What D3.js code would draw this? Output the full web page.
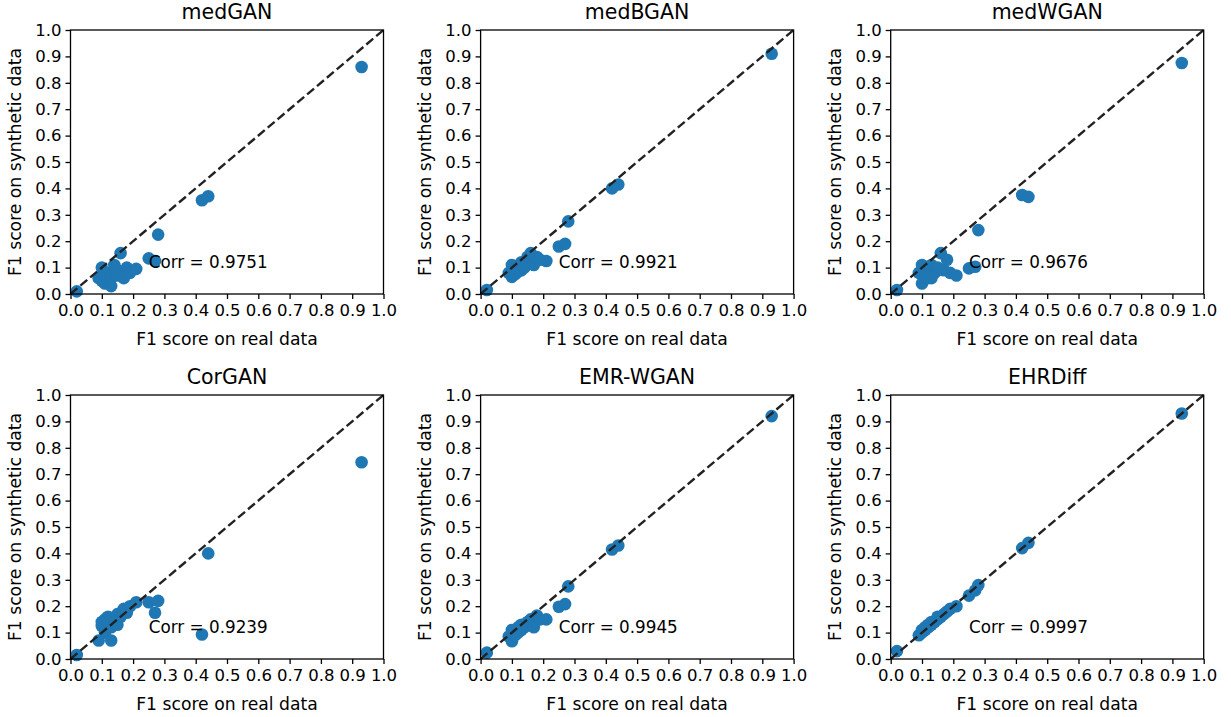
<!DOCTYPE html>
<html>
<head>
<meta charset="utf-8">
<script src="https://cdn.jsdelivr.net/npm/d3@7"></script>
<style>
  body { margin: 0; background: #fff; }
  text { font-family: "DejaVu Sans", sans-serif; fill: #000; }
</style>
</head>
<body>
<div id="chart"></div>
<script>
// 実データでのF1 (全モデル共通)
var realF1 = [0.02, 0.09, 0.10, 0.10, 0.11, 0.11, 0.12, 0.12, 0.13, 0.13, 0.14, 0.15,
  0.15, 0.16, 0.17, 0.18, 0.19, 0.21, 0.25, 0.27, 0.28, 0.42, 0.44, 0.93];

// 合成データでのF1 (モデル毎)
var medGAN = [0.01, 0.06, 0.10, 0.05, 0.04, 0.07, 0.05, 0.08, 0.03, 0.06, 0.11, 0.07,
  0.09, 0.155, 0.06, 0.10, 0.08, 0.095, 0.135, 0.125, 0.225, 0.355, 0.37, 0.86];
var medBGAN = [0.015, 0.08, 0.065, 0.11, 0.09, 0.075, 0.10, 0.085, 0.09, 0.12, 0.10, 0.12,
  0.14, 0.155, 0.11, 0.14, 0.13, 0.125, 0.18, 0.19, 0.275, 0.40, 0.415, 0.91];
var medWGAN = [0.015, 0.08, 0.04, 0.11, 0.07, 0.09, 0.06, 0.10, 0.06, 0.11, 0.08, 0.09,
  0.10, 0.155, 0.09, 0.13, 0.08, 0.07, 0.097, 0.103, 0.242, 0.375, 0.368, 0.875];
var CorGAN = [0.015, 0.07, 0.125, 0.14, 0.15, 0.10, 0.16, 0.13, 0.07, 0.12, 0.14, 0.17,
  0.13, 0.16, 0.19, 0.175, 0.20, 0.215, 0.215, 0.175, 0.22, 0.093, 0.40, 0.745];
var EMRWGAN = [0.024, 0.085, 0.067, 0.11, 0.09, 0.10, 0.10, 0.12, 0.11, 0.13, 0.12, 0.14,
  0.13, 0.15, 0.12, 0.165, 0.15, 0.15, 0.198, 0.208, 0.275, 0.415, 0.43, 0.92];
var EHRDiff = [0.03, 0.09, 0.10, 0.11, 0.11, 0.12, 0.12, 0.13, 0.13, 0.14, 0.14, 0.15,
  0.16, 0.16, 0.17, 0.18, 0.19, 0.20, 0.24, 0.26, 0.28, 0.42, 0.44, 0.93];

var titles = ["medGAN", "medBGAN", "medWGAN", "CorGAN", "EMR-WGAN", "EHRDiff"];
var synthF1 = [medGAN, medBGAN, medWGAN, CorGAN, EMRWGAN, EHRDiff];
var corrs = ["0.9751", "0.9921", "0.9676", "0.9239", "0.9945", "0.9997"];
var ticks = [0.0, 0.1, 0.2, 0.3, 0.4, 0.5, 0.6, 0.7, 0.8, 0.9, 1.0];

var width = 1231;
var height = 717;
var colLeft = [70.5, 480.6, 890.7]; // 各列の軸の左端
var rowTop = [30, 395];            // 各行の軸の上端
var pw = 313;
var ph = 264;
var dotColor = "#1f77b4";

var svg = d3.select("#chart").append("svg")
  .attr("width", width)
  .attr("height", height);

var x = d3.scaleLinear().domain([0, 1]).range([0, pw]);
var y = d3.scaleLinear().domain([0, 1]).range([ph, 0]);

titles.forEach(function(title, i) {
  var g = svg.append("g")
    .attr("transform", "translate(" + colLeft[i % 3] + "," + rowTop[Math.floor(i / 3)] + ")");

  var pts = realF1.map(function(r, j) { return [r, synthF1[i][j]]; });

  // 散布点
  g.selectAll("circle").data(pts).enter()
    .append("circle")
    .attr("cx", function(d) { return x(d[0]); })
    .attr("cy", function(d) { return y(d[1]); })
    .attr("r", 6.3)
    .attr("fill", dotColor);

  // y = x の破線
  g.append("line")
    .attr("x1", x(0)).attr("y1", y(0))
    .attr("x2", x(1)).attr("y2", y(1))
    .attr("stroke", "#222")
    .attr("stroke-width", 2.4)
    .attr("stroke-dasharray", "9,3.9");

  // 相関係数
  g.append("text")
    .attr("x", x(0.25))
    .attr("y", y(0.12))
    .attr("dy", "0.35em")
    .attr("font-size", "16.8px")
    .text("Corr = " + corrs[i]);

  // 軸
  var xAxis = d3.axisBottom(x).tickValues(ticks).tickSize(5).tickPadding(5)
    .tickFormat(d3.format(".1f"));
  var yAxis = d3.axisLeft(y).tickValues(ticks).tickSize(5).tickPadding(4)
    .tickFormat(d3.format(".1f"));

  var gx = g.append("g").attr("transform", "translate(0," + ph + ")").call(xAxis);
  var gy = g.append("g").call(yAxis);
  [gx, gy].forEach(function(a) {
    a.select(".domain").remove();
    a.selectAll("line").attr("stroke", "#000").attr("stroke-width", 1.3);
    a.selectAll("text").attr("font-size", "16.5px").attr("font-family", "DejaVu Sans").attr("fill", "#000");
  });

  // 枠
  g.append("rect")
    .attr("width", pw).attr("height", ph)
    .attr("fill", "none")
    .attr("stroke", "#000")
    .attr("stroke-width", 1.3);

  // タイトル
  g.append("text")
    .attr("x", pw / 2)
    .attr("y", -11)
    .attr("text-anchor", "middle")
    .attr("font-size", "20.5px")
    .text(title);

  // 軸ラベル
  g.append("text")
    .attr("x", pw / 2)
    .attr("y", ph + 51)
    .attr("text-anchor", "middle")
    .attr("font-size", "17.2px")
    .text("F1 score on real data");

  g.append("text")
    .attr("transform", "translate(-50," + ph / 2 + ") rotate(-90)")
    .attr("text-anchor", "middle")
    .attr("font-size", "17.2px")
    .text("F1 score on synthetic data");
});
</script>
</body>
</html>
